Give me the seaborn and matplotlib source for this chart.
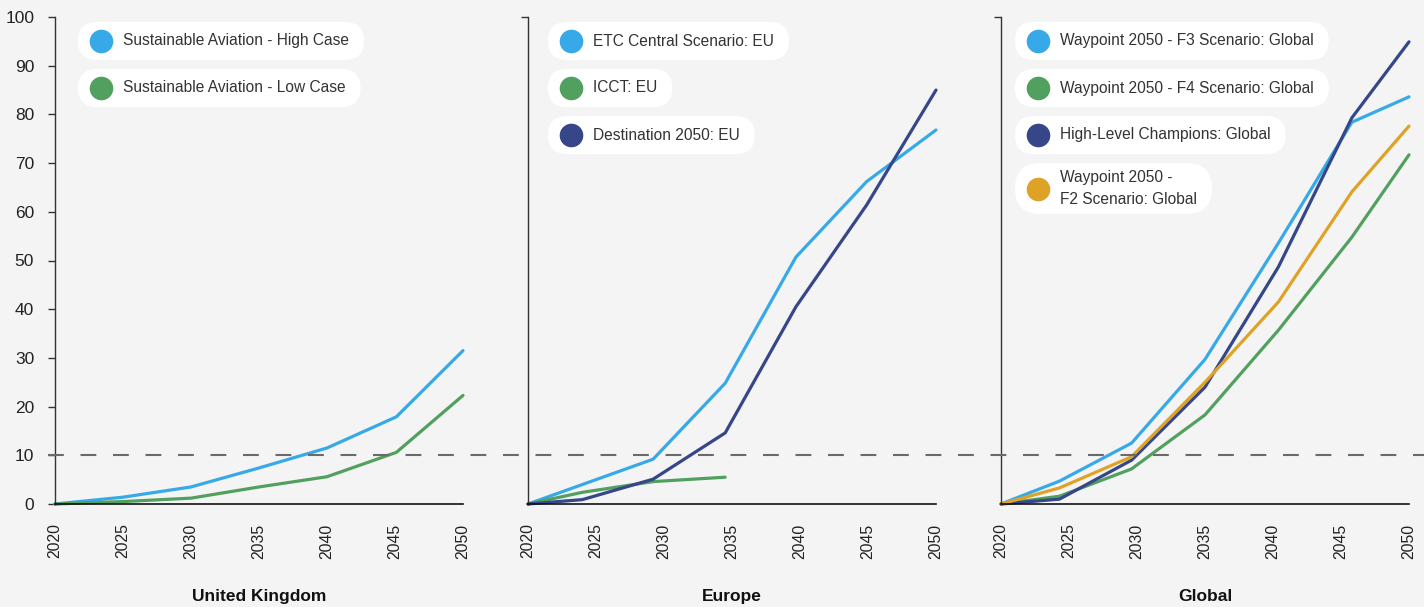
import matplotlib
matplotlib.use("Agg")
import matplotlib.pyplot as plt
import seaborn as sns
import pandas as pd
from matplotlib.patches import FancyBboxPatch
from matplotlib.transforms import blended_transform_factory, IdentityTransform

# ---------------- data ----------------
panel_titles = ["United Kingdom", "Europe", "Global"]
tick_years = [2020, 2025, 2030, 2035, 2040, 2045, 2050]
y_ticks = [0, 10, 20, 30, 40, 50, 60, 70, 80, 90, 100]
threshold = 10

uk_years = [2020, 2025, 2030, 2035, 2040, 2045.1, 2050]
uk_high = [0, 1.4, 3.5, 7.4, 11.5, 17.9, 31.5]
uk_low = [0, 0.5, 1.2, 3.5, 5.6, 10.6, 22.3]

eu_etc_years = [2020, 2029.2, 2034.5, 2039.7, 2044.9, 2050]
eu_etc = [0, 9.2, 24.8, 50.7, 66.2, 76.8]
eu_icct_years = [2020, 2024, 2029.2, 2034.5]
eu_icct = [0, 2.4, 4.6, 5.5]
eu_dest_years = [2020, 2024, 2029.2, 2034.5, 2039.7, 2044.9, 2050]
eu_dest = [0, 0.9, 5.1, 14.6, 40.5, 61.4, 85.0]

gl_years = [2020, 2024.3, 2029.6, 2035, 2040.4, 2045.8, 2050]
gl_f3 = [0, 4.7, 12.5, 29.7, 53.6, 78.4, 83.6]
gl_f4 = [0, 1.6, 7.2, 18.3, 35.7, 54.8, 71.7]
gl_hlc = [0, 1.0, 9.0, 24.0, 48.7, 79.3, 94.9]
gl_f2 = [0, 3.3, 9.7, 25.0, 41.5, 64.1, 77.6]

BLUE, GREEN, NAVY, ORANGE = "#38a9e8", "#52a05f", "#354689", "#dea326"

panels = [
    [("Sustainable Aviation - High Case", uk_years, uk_high, BLUE),
     ("Sustainable Aviation - Low Case", uk_years, uk_low, GREEN)],
    [("ETC Central Scenario: EU", eu_etc_years, eu_etc, BLUE),
     ("ICCT: EU", eu_icct_years, eu_icct, GREEN),
     ("Destination 2050: EU", eu_dest_years, eu_dest, NAVY)],
    [("Waypoint 2050 - F3 Scenario: Global", gl_years, gl_f3, BLUE),
     ("Waypoint 2050 - F4 Scenario: Global", gl_years, gl_f4, GREEN),
     ("High-Level Champions: Global", gl_years, gl_hlc, NAVY),
     ("Waypoint 2050 -\nF2 Scenario: Global", gl_years, gl_f2, ORANGE)],
]

# ---------------- figure ----------------
sns.set_theme(style="white")
plt.rcParams["font.family"] = ["Liberation Sans", "DejaVu Sans"]
BG = "#f4f4f4"
W, H = 1424, 607
fig = plt.figure(figsize=(W / 100, H / 100), dpi=100, facecolor=BG)

lefts = [55, 528, 1001]
pill_lefts = [78, 548, 1015]
ax_w, ax_bottom, ax_top = 408, 504, 17
axes = []
for i, left in enumerate(lefts):
    ax = fig.add_axes([left / W, (H - ax_bottom) / H, ax_w / W, (ax_bottom - ax_top) / H])
    ax.set_facecolor(BG)
    axes.append(ax)
    for name, xs, ys, col in panels[i]:
        df = pd.DataFrame({"year": xs, "value": ys})
        sns.lineplot(data=df, x="year", y="value", ax=ax, color=col, lw=2.3,
                     clip_on=False, estimator=None, sort=False)
    ax.set_xlim(2020, 2050)
    ax.set_ylim(0, 100)
    ax.set_xticks(tick_years)
    ax.set_xticklabels([str(t) for t in tick_years], rotation=90, fontsize=11.3, color="#222")
    ax.tick_params(axis="x", length=0, pad=14)
    if i == 0:
        ax.set_yticks(y_ticks)
        ax.set_yticklabels([str(t) for t in y_ticks], fontsize=12.5, color="#222")
        ax.tick_params(axis="y", length=5, width=1, color="#333", pad=10, left=True)
    else:
        ax.set_yticks([100])
        ax.set_yticklabels([""])
        ax.tick_params(axis="y", length=5, width=1, color="#333", left=True)
    ax.set_xlabel(panel_titles[i], fontsize=12.5, fontweight="bold", color="#111", labelpad=22)
    ax.set_ylabel("")
    for s in ["top", "right"]:
        ax.spines[s].set_visible(False)
    ax.spines["left"].set_color("#333")
    ax.spines["left"].set_linewidth(1.0)
    ax.spines["bottom"].set_color("#111")
    ax.spines["bottom"].set_linewidth(1.2)

# dashed threshold line across the whole figure (starts just left of the first axis)
trans = blended_transform_factory(fig.transFigure, axes[0].transData)
fig.add_artist(plt.Line2D([48 / W, 1], [threshold, threshold], transform=trans,
                          color="#6a6a6a", lw=1.5, linestyle=(0, (7.6, 8.0)), zorder=0.5))

# ---------------- pill legends ----------------
texts = []
for i, ax in enumerate(axes):
    pl = pill_lefts[i]
    prev_bottom = None
    for j, (name, xs, ys, col) in enumerate(panels[i]):
        nlines = name.count("\n") + 1
        h = 38 if nlines == 1 else 51
        y_center = 41 if j == 0 else prev_bottom + 9 + h / 2
        tx = pl + 45
        t = fig.text(tx / W, 1 - y_center / H, name, fontsize=11.2, color="#333",
                     ha="left", va="center", linespacing=1.6, zorder=5)
        texts.append((t, pl, y_center, h, col))
        prev_bottom = y_center + h / 2

fig.canvas.draw()
renderer = fig.canvas.get_renderer()
for t, pill_left, yc, h, col in texts:
    bb = t.get_window_extent(renderer)
    right = bb.x1 + 15
    yc_pix = H - yc
    patch = FancyBboxPatch((pill_left, yc_pix - h / 2), right - pill_left, h,
                           boxstyle=f"round,pad=0,rounding_size={h/2}",
                           transform=IdentityTransform(), facecolor="white",
                           edgecolor="none", zorder=4)
    fig.add_artist(patch)
    circ = plt.Line2D([(pill_left + 22.5) / W], [yc_pix / H], transform=fig.transFigure,
                      marker="o", markersize=17, color=col, markeredgewidth=0, zorder=5)
    fig.add_artist(circ)

fig.savefig("out.png", dpi=100, facecolor=BG)
